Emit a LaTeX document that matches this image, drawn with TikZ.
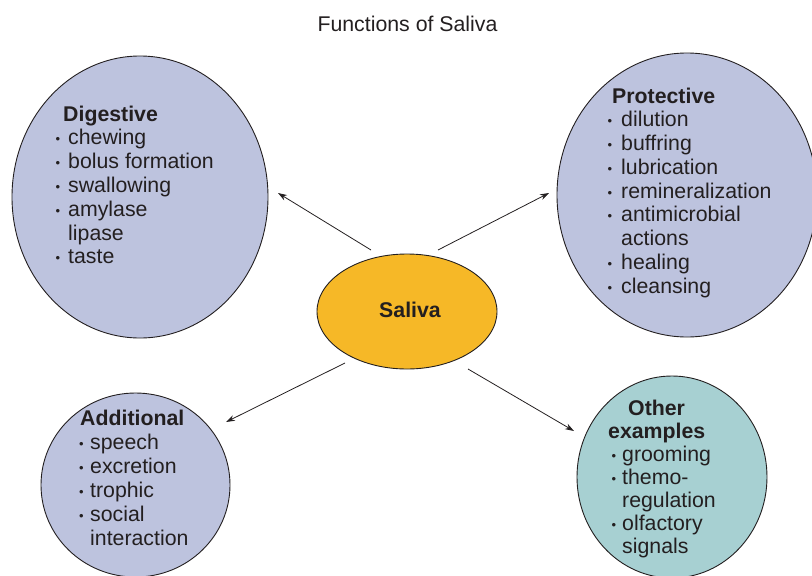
\documentclass[tikz,border=0pt]{standalone}
\usepackage{fontspec}
\setmainfont{Liberation Sans}
\usetikzlibrary{shapes.geometric,arrows.meta}
\definecolor{ink}{HTML}{231F20}
\definecolor{lav}{HTML}{BDC3DE}
\definecolor{tealfill}{HTML}{A7D0D2}
\definecolor{sal}{HTML}{F6B827}
\newcommand\bu[1][8pt]{\llap{\raisebox{1pt}{\fontsize{13}{13}\selectfont •}\hspace{#1}}}
\begin{document}
\begin{tikzpicture}[x=1pt,y=-1pt,
  blob/.style={ellipse, draw=ink, line width=0.9pt, inner sep=0pt},
  txt/.style={inner sep=0pt, text=ink, anchor=base west, font=\fontsize{21.3}{24}\selectfont},
  link/.style={draw=ink, line width=0.8pt, -{Stealth[length=9pt,width=6pt]}}]
\useasboundingbox (0,0) rectangle (812,576);
% ellipses
\node[blob, fill=lav, minimum width=256pt, minimum height=282pt] (dig) at (140,197) {};
\node[blob, fill=lav, minimum width=260pt, minimum height=284pt] (pro) at (687,195) {};
\node[blob, fill=lav, minimum width=189pt, minimum height=184pt] (add) at (135.5,485) {};
\node[blob, fill=tealfill, minimum width=190pt, minimum height=202pt] (oth) at (672,477) {};
\node[blob, fill=sal, minimum width=180pt, minimum height=115pt] (sal) at (407,311.5) {};
% title and centre label
\node[txt, anchor=base] (title) at (407.5,31) {Functions of Saliva};
\node[txt, anchor=base] (salt) at (410,317) {\bfseries Saliva};
% text blocks
\node[txt, font=\fontsize{21.3}{23.8}\selectfont] (digt) at (68,121) {\begin{tabular}[t]{@{}l@{}}
\kern-5pt\bfseries Digestive\\
\bu chewing\\
\bu bolus formation\\
\bu swallowing\\
\bu amylase\\
lipase\\
\bu taste
\end{tabular}};
\node[txt, font=\fontsize{21.3}{23.75}\selectfont] (prot) at (621,103) {\begin{tabular}[t]{@{}l@{}}
\kern-9pt\bfseries Protective\\
\bu[9pt]dilution\\
\bu[9pt]buffring\\
\bu[9pt]lubrication\\
\bu[9pt]remineralization\\
\bu[9pt]antimicrobial\\
actions\\
\bu[9pt]healing\\
\bu[9pt]cleansing
\end{tabular}};
\node[txt, font=\fontsize{21.3}{24}\selectfont] (addt) at (90,425) {\begin{tabular}[t]{@{}l@{}}
\kern-10pt\bfseries Additional\\
\bu[6.5pt]speech\\
\bu[6.5pt]excretion\\
\bu[6.5pt]trophic\\
\bu[6.5pt]social\\
interaction
\end{tabular}};
\node[txt, font=\fontsize{21.3}{23}\selectfont] (otht) at (622,415) {\begin{tabular}[t]{@{}l@{}}
\kern6pt\bfseries Other\\
\kern-14pt\bfseries examples\\
\bu[6pt]grooming\\
\bu[6pt]themo-\\
regulation\\
\bu[6pt]olfactory\\
signals
\end{tabular}};
% connector ends
\coordinate (s1) at (371,250); \coordinate (e1) at (278,193);
\coordinate (s2) at (438,250); \coordinate (e2) at (549,193);
\coordinate (s3) at (345,363); \coordinate (e3) at (226,422);
\coordinate (s4) at (468,369); \coordinate (e4) at (574,431);
\draw[link] (s1) -- (e1);
\draw[link] (s2) -- (e2);
\draw[link] (s3) -- (e3);
\draw[link] (s4) -- (e4);
\end{tikzpicture}
\end{document}
